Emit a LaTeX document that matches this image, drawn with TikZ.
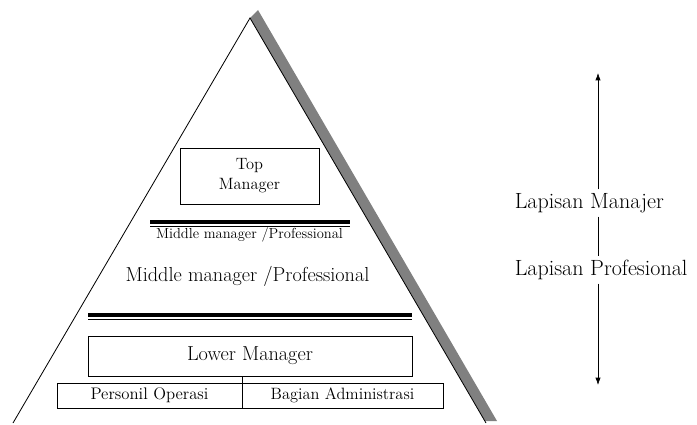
\documentclass[tikz,border=0pt]{standalone}
\usepackage{tikz}
\usetikzlibrary{arrows.meta}

\begin{document}
\begin{tikzpicture}[x=0.03cm, y=-0.03cm]
	\tikzset{
		block/.style = {rectangle, draw, line width=0.6pt, inner sep=0pt, text centered, align=center},
		label/.style = {inner sep=3pt, anchor=west, font=\fontsize{18.8}{22}\selectfont},
		arr/.style = {line width=0.6pt, -{Latex[length=2.2mm, width=1.6mm]}},
		thickbar/.style = {line width=2.6pt},
		thinbar/.style = {line width=0.7pt}
	}
	\useasboundingbox (0, 0) rectangle (697, 425);
	% pyramid with its shadow
	\coordinate (apex) at (250, 18);
	\coordinate (bl) at (13, 423);
	\coordinate (br) at (486, 423);
	\fill[black!50] (apex) -- (258, 10) -- (497, 421) -- (485, 421) -- cycle;
	\draw[line width=0.7pt] (bl) -- (apex) -- (br);
	% boxes
	\node[block, minimum width=4.17cm, minimum height=1.68cm,
		font=\fontsize{14}{17}\selectfont] (top) at (249.5, 176) {Top\\Manager};
	\node[font=\fontsize{12.4}{14}\selectfont] (midsmall) at (249.5, 235) {Middle manager /Professional};
	\node[font=\fontsize{17.3}{20}\selectfont] (midbig) at (247.5, 276) {Middle manager /Professional};
	\node[block, minimum width=9.72cm, minimum height=1.2cm,
		font=\fontsize{17.3}{20}\selectfont] (lower) at (250, 356) {Lower Manager};
	\node[block, minimum width=5.55cm, minimum height=0.75cm,
		font=\fontsize{14.3}{17}\selectfont] (opr) at (149.5, 395.5) {Personil Operasi};
	\node[block, minimum width=6.03cm, minimum height=0.75cm,
		font=\fontsize{14}{17}\selectfont] (adm) at (342.5, 395.5) {Bagian Administrasi};
	\draw[line width=0.6pt] (lower.south -| opr.east) -- (opr.south east);
	% double bars
	\draw[thickbar] (150, 222) -- (350, 222);
	\draw[thinbar] (150, 226.5) -- (350, 226.5);
	\draw[thickbar] (88, 315) -- (412, 315);
	\draw[thinbar] (88, 319.5) -- (412, 319.5);
	% layers on the right
	\node[label] (mgr) at (511, 203) {Lapisan Manajer};
	\node[label] (prof) at (511, 270) {Lapisan Profesional};
	\coordinate (topend) at (598, 73);
	\coordinate (botend) at (598, 385);
	\draw[arr] (mgr.north -| topend) -- (topend);
	\draw[line width=0.6pt] (mgr.south -| topend) -- (prof.north -| topend);
	\draw[arr] (prof.south -| botend) -- (botend);
\end{tikzpicture}
\end{document}
